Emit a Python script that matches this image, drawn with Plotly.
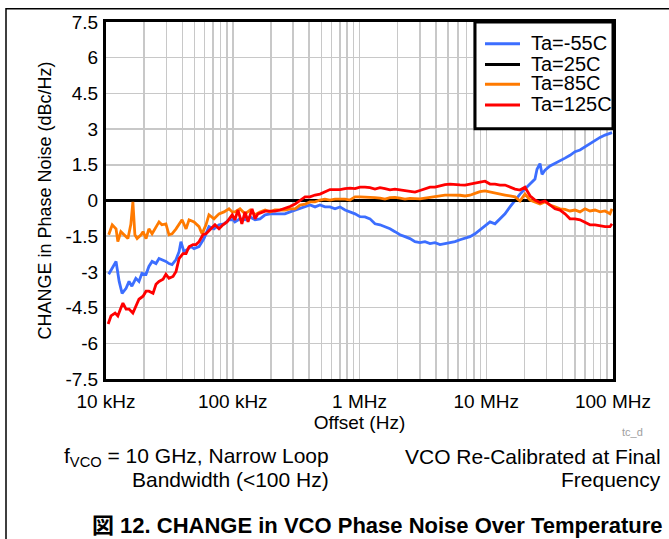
import plotly.graph_objects as go

# ---------------- data (offset frequency in Hz, change in dBc/Hz) ----------------
f_m55 = [10.5e3, 11.2e3, 12.0e3, 12.7e3, 13.4e3, 14.4e3, 15.2e3, 16.0e3, 17.2e3, 18.2e3,
         19.2e3, 20.7e3, 21.8e3, 23.1e3, 24.8e3, 26.2e3, 27.6e3, 29.7e3, 31.4e3, 33.2e3,
         35.7e3, 37.7e3, 39.0e3, 41.2e3, 43.6e3, 46.8e3, 49.5e3, 54.2e3, 59.3e3, 64.9e3,
         71.1e3, 77.9e3, 85.3e3, 93.4e3, 100.5e3,
         104e3, 114e3, 125e3, 137e3, 150e3, 164e3, 180e3, 197e3, 215e3, 236e3, 258e3, 283e3,
         310e3, 339e3, 372e3, 407e3, 446e3, 488e3, 534e3, 585e3, 641e3, 702e3, 769e3, 842e3, 922e3,
         1.009e6, 1.105e6, 1.210e6, 1.325e6, 1.451e6, 1.589e6, 1.740e6, 1.905e6, 2.087e6, 2.285e6,
         2.502e6, 2.740e6, 3.001e6, 3.286e6, 3.599e6, 3.941e6, 4.316e6, 4.726e6, 5.176e6, 5.668e6,
         6.207e6, 6.798e6, 7.444e6, 8.152e6, 8.928e6, 9.777e6,
         10.71e6, 11.72e6, 12.84e6, 14.06e6, 15.39e6, 16.86e6, 18.46e6, 20.21e6, 22.14e6, 24.24e6,
         25.14e6, 26.55e6, 27.54e6, 29.07e6, 31.84e6, 34.86e6, 38.18e6, 41.81e6, 45.78e6, 50.14e6,
         54.91e6, 60.13e6, 65.84e6, 72.11e6, 78.97e6, 86.48e6, 94.69e6, 98.2e6]
v_m55 = [-3.10, -2.85, -2.56, -3.40, -3.90, -3.69, -3.40, -3.60, -3.27, -3.40,
         -3.06, -3.10, -2.77, -2.56, -2.65, -2.44, -2.48, -2.56, -2.65, -2.69,
         -2.48, -2.15, -1.73, -2.15, -2.06, -1.94, -2.02, -1.94, -1.60, -1.10,
         -1.19, -1.02, -0.98, -0.81, -0.80,
         -0.90, -0.77, -0.81, -0.69, -0.81, -0.77, -0.60, -0.56, -0.56, -0.56, -0.56, -0.48,
         -0.40, -0.35, -0.27, -0.19, -0.27, -0.19, -0.27, -0.27, -0.35, -0.27, -0.40, -0.48, -0.56,
         -0.68, -0.69, -0.77, -0.98, -1.02, -1.10, -1.19, -1.31, -1.44, -1.52,
         -1.60, -1.73, -1.77, -1.73, -1.81, -1.77, -1.85, -1.81, -1.77, -1.73,
         -1.65, -1.60, -1.52, -1.40, -1.23, -1.10,
         -0.90, -0.98, -0.77, -0.56, -0.27, 0.02, 0.27, 0.48, 0.69, 0.90,
         1.31, 1.55, 1.10, 1.27, 1.45, 1.55, 1.68, 1.78, 1.90, 2.05,
         2.12, 2.25, 2.40, 2.50, 2.65, 2.75, 2.80, 2.85]

f_25 = [1e4, 1e8]
v_25 = [0.0, 0.0]

f_85 = [10.5e3, 11.2e3, 12.0e3, 12.4e3, 13.1e3, 13.9e3, 14.9e3, 15.7e3, 16.3e3, 16.9e3,
        17.6e3, 18.9e3, 19.6e3, 20.7e3, 21.8e3, 23.1e3, 24.8e3, 26.2e3, 27.6e3, 29.7e3,
        31.4e3, 33.2e3, 35.7e3, 37.7e3, 39.8e3, 42.8e3, 45.2e3, 49.5e3, 54.2e3, 57.2e3,
        61.5e3, 64.9e3, 71.1e3, 77.9e3, 85.3e3, 93.4e3, 99.0e3,
        104e3, 114e3, 125e3, 137e3, 150e3, 164e3, 180e3, 197e3, 215e3, 236e3, 258e3, 283e3,
        310e3, 339e3, 372e3, 407e3, 446e3, 488e3, 534e3, 585e3, 641e3, 702e3, 769e3, 842e3, 922e3,
        1.009e6, 1.105e6, 1.210e6, 1.325e6, 1.451e6, 1.589e6, 1.740e6, 1.905e6, 2.087e6, 2.285e6,
        2.502e6, 2.740e6, 3.001e6, 3.286e6, 3.599e6, 3.941e6, 4.316e6, 4.726e6, 5.176e6, 5.668e6,
        6.207e6, 6.798e6, 7.444e6, 8.152e6, 8.928e6, 9.777e6,
        10.71e6, 11.72e6, 12.84e6, 14.06e6, 15.39e6, 16.86e6, 18.46e6, 20.21e6, 22.14e6, 24.24e6,
        26.55e6, 29.07e6, 31.84e6, 34.86e6, 38.18e6, 41.81e6, 45.78e6, 50.14e6,
        54.91e6, 60.13e6, 65.84e6, 72.11e6, 78.97e6, 86.48e6, 94.69e6, 98.2e6]
v_85 = [-1.44, -1.02, -1.19, -1.73, -1.31, -1.44, -1.60, -1.00, -0.06, -1.44,
        -1.60, -1.44, -1.31, -1.60, -1.19, -1.40, -1.10, -0.90, -1.02, -0.98,
        -1.44, -1.40, -1.19, -1.02, -0.81, -1.19, -0.81, -0.90, -1.10, -1.40,
        -1.02, -0.60, -0.77, -0.56, -0.48, -0.35, -0.48,
        -0.48, -0.35, -0.56, -0.40, -0.60, -0.48, -0.40, -0.48, -0.40, -0.40, -0.40, -0.35,
        -0.35, -0.19, -0.15, -0.06, -0.06, 0.02, 0.06, 0.02, 0.06, 0.06, 0.06, 0.02, 0.15,
        0.15, 0.15, 0.15, 0.12, 0.10, 0.06, 0.12, 0.13, 0.10, 0.06,
        0.09, 0.08, 0.07, 0.10, 0.14, 0.17, 0.20, 0.23, 0.23, 0.23,
        0.22, 0.19, 0.22, 0.30, 0.37, 0.40,
        0.35, 0.31, 0.27, 0.23, 0.19, 0.15, -0.02, 0.27, 0.02, -0.06,
        -0.15, -0.06, -0.19, -0.27, -0.35, -0.37, -0.44, -0.40,
        -0.48, -0.35, -0.44, -0.40, -0.48, -0.44, -0.56, -0.35]

f_125 = [10.4e3, 10.95e3, 11.8e3, 12.4e3, 13.1e3, 13.6e3, 14.4e3, 15.2e3, 16.3e3, 17.2e3,
         18.2e3, 19.6e3, 20.7e3, 21.8e3, 23.5e3, 24.8e3, 26.2e3, 28.2e3, 29.7e3, 31.4e3,
         33.8e3, 35.7e3, 37.7e3, 40.5e3, 42.8e3, 45.2e3, 48.6e3, 51.3e3, 54.2e3, 58.2e3,
         61.5e3, 67.3e3, 72.4e3, 77.9e3, 83.7e3, 90.1e3, 99.0e3,
         104e3, 110e3, 118e3, 125e3, 132e3, 142e3, 150e3, 158e3, 180e3, 197e3, 215e3, 236e3,
         258e3, 283e3, 310e3, 339e3, 372e3, 407e3, 446e3, 488e3, 534e3, 585e3, 641e3, 702e3,
         769e3, 842e3, 922e3,
         1.009e6, 1.105e6, 1.210e6, 1.325e6, 1.451e6, 1.589e6, 1.740e6, 1.905e6, 2.087e6, 2.285e6,
         2.502e6, 2.740e6, 3.001e6, 3.286e6, 3.599e6, 3.941e6, 4.316e6, 4.726e6, 5.176e6, 5.668e6,
         6.207e6, 6.798e6, 7.444e6, 8.152e6, 8.928e6, 9.777e6,
         10.71e6, 11.72e6, 12.84e6, 14.06e6, 15.39e6, 16.86e6, 18.46e6, 20.21e6, 22.14e6, 24.24e6,
         26.55e6, 29.07e6, 31.84e6, 34.86e6, 38.18e6, 41.81e6, 45.78e6, 50.14e6,
         54.91e6, 60.13e6, 65.84e6, 72.11e6, 78.97e6, 86.48e6, 94.69e6, 98.2e6]
v_125 = [-5.19, -4.85, -4.73, -4.85, -4.52, -4.31, -4.56, -4.56, -4.73, -4.44,
         -4.15, -4.02, -3.81, -3.81, -3.90, -3.52, -3.40, -3.31, -3.10, -3.27,
         -3.19, -2.98, -2.44, -2.23, -2.23, -1.94, -1.85, -1.85, -1.73, -1.44,
         -1.40, -1.19, -1.02, -1.19, -1.02, -0.90, -0.60,
         -0.81, -0.40, -0.98, -0.48, -0.90, -0.35, -0.77, -0.56, -0.45, -0.45, -0.45, -0.40,
         -0.33, -0.25, -0.15, -0.02, 0.15, 0.15, 0.23, 0.27, 0.38, 0.46, 0.46, 0.46,
         0.50, 0.52, 0.50,
         0.56, 0.56, 0.54, 0.48, 0.54, 0.50, 0.45, 0.48, 0.45, 0.42,
         0.38, 0.35, 0.42, 0.50, 0.56, 0.56, 0.62, 0.67, 0.69, 0.69,
         0.66, 0.65, 0.68, 0.73, 0.77, 0.81,
         0.69, 0.69, 0.65, 0.65, 0.56, 0.48, 0.44, 0.56, 0.20, 0.02,
         -0.08, -0.02, -0.19, -0.35, -0.40, -0.56, -0.77, -0.77,
         -0.81, -0.90, -1.02, -1.02, -1.06, -1.10, -1.10, -0.98]

series_names = ["Ta=-55C", "Ta=25C", "Ta=85C", "Ta=125C"]
series_colors = ["#3c6eff", "#000000", "#ff7a00", "#ff0000"]

x_tickvals = [1e4, 1e5, 1e6, 1e7, 1e8]
x_ticktext = ["10 kHz", "100 kHz", "1 MHz", "10 MHz", "100 MHz"]
y_tickvals = [7.5, 6, 4.5, 3, 1.5, 0, -1.5, -3, -4.5, -6, -7.5]
y_ticktext = ["7.5", "6", "4.5", "3", "1.5", "0", "-1.5", "-3", "-4.5", "-6", "-7.5"]

FONT = "Liberation Sans, Arial, Noto Sans CJK JP, sans-serif"

# layout helpers: figure pixel -> paper coordinates (plot area 106..613 x 18..379)
L, R, T, B = 106, 613, 18, 379
def px(x):
    return (x - L) / (R - L)
def py(y):
    return (B - y) / (B - T)

fig = go.Figure()
for (fx, vy), name, color in zip([(f_m55, v_m55), (f_25, v_25), (f_85, v_85), (f_125, v_125)],
                                 series_names, series_colors):
    fig.add_trace(go.Scatter(x=fx, y=vy, mode="lines", name=name, showlegend=False,
                             line=dict(color=color, width=2.8)))

fig.update_layout(
    width=669, height=539, autosize=False,
    paper_bgcolor="white", plot_bgcolor="white",
    margin=dict(l=L, r=669 - R, t=T, b=539 - B),
    font=dict(family=FONT, size=19, color="#000000"),
    showlegend=False,
)
fig.update_xaxes(
    type="log", range=[4, 8],
    tickmode="array", tickvals=x_tickvals, ticktext=x_ticktext,
    showgrid=True, gridcolor="#c8c8c8", gridwidth=1.5,
    minor=dict(dtick="D1", showgrid=True, gridcolor="#c8c8c8", gridwidth=1.5, ticks=""),
    showline=True, linecolor="black", linewidth=3, mirror=True,
    ticks="", zeroline=False,
    tickfont=dict(size=19), ticklabelstandoff=3,
    title=dict(text="Offset (Hz)", font=dict(size=19), standoff=2),
)
fig.update_yaxes(
    range=[-7.5, 7.5],
    tickmode="array", tickvals=y_tickvals, ticktext=y_ticktext,
    showgrid=True, gridcolor="#c8c8c8", gridwidth=1.5,
    showline=True, linecolor="black", linewidth=3, mirror=True,
    ticks="", zeroline=False,
    tickfont=dict(size=19), ticklabelstandoff=1,
    title=dict(text="CHANGE in Phase Noise (dBc/Hz)", font=dict(size=18), standoff=10),
)

# custom legend box
fig.add_shape(type="rect", xref="paper", yref="paper", layer="above",
              x0=px(475), x1=1.0, y0=py(126), y1=1.0,
              fillcolor="white", line=dict(color="black", width=3))
legend_y = [39, 60, 80, 101]
for name, color, yy in zip(series_names, series_colors, legend_y):
    fig.add_shape(type="line", xref="paper", yref="paper", layer="above",
                  x0=px(485), x1=px(520), y0=py(yy + 1), y1=py(yy + 1),
                  line=dict(color=color, width=3))
    fig.add_annotation(text=name, xref="paper", yref="paper", x=px(529), y=py(yy),
                       xanchor="left", yanchor="middle", showarrow=False,
                       font=dict(size=20))

# outer figure frame (top and left edges)
fig.add_shape(type="rect", xref="paper", yref="paper", layer="above",
              x0=px(6), x1=px(700), y0=py(4.5), y1=py(600),
              fillcolor="rgba(0,0,0,0)", line=dict(color="black", width=1.5))

fig.add_annotation(text="tc_d", xref="paper", yref="paper", x=px(632), y=py(433),
                   xanchor="center", yanchor="middle", showarrow=False,
                   font=dict(size=11, color="#a0a0a0"))
fig.add_annotation(text="f<sub>VCO</sub> = 10 GHz, Narrow Loop",
                   xref="paper", yref="paper", x=px(331), y=py(458),
                   xanchor="right", yanchor="middle", showarrow=False,
                   font=dict(size=21))
fig.add_annotation(text="Bandwidth (&lt;100 Hz)",
                   xref="paper", yref="paper", x=px(331), y=py(481),
                   xanchor="right", yanchor="middle", showarrow=False,
                   font=dict(size=21))
fig.add_annotation(text="VCO Re-Calibrated at Final",
                   xref="paper", yref="paper", x=px(663), y=py(457),
                   xanchor="right", yanchor="middle", showarrow=False,
                   font=dict(size=21))
fig.add_annotation(text="Frequency",
                   xref="paper", yref="paper", x=px(663), y=py(481),
                   xanchor="right", yanchor="middle", showarrow=False,
                   font=dict(size=21))
fig.add_annotation(text="<b>図 12. CHANGE in VCO Phase Noise Over Temperature</b>",
                   xref="paper", yref="paper", x=px(377), y=py(527),
                   xanchor="center", yanchor="middle", showarrow=False,
                   font=dict(size=22))

fig.write_html("out.html", config={"staticPlot": True, "displayModeBar": False},
               post_script="document.body.style.margin='0';document.body.style.padding='0';")
